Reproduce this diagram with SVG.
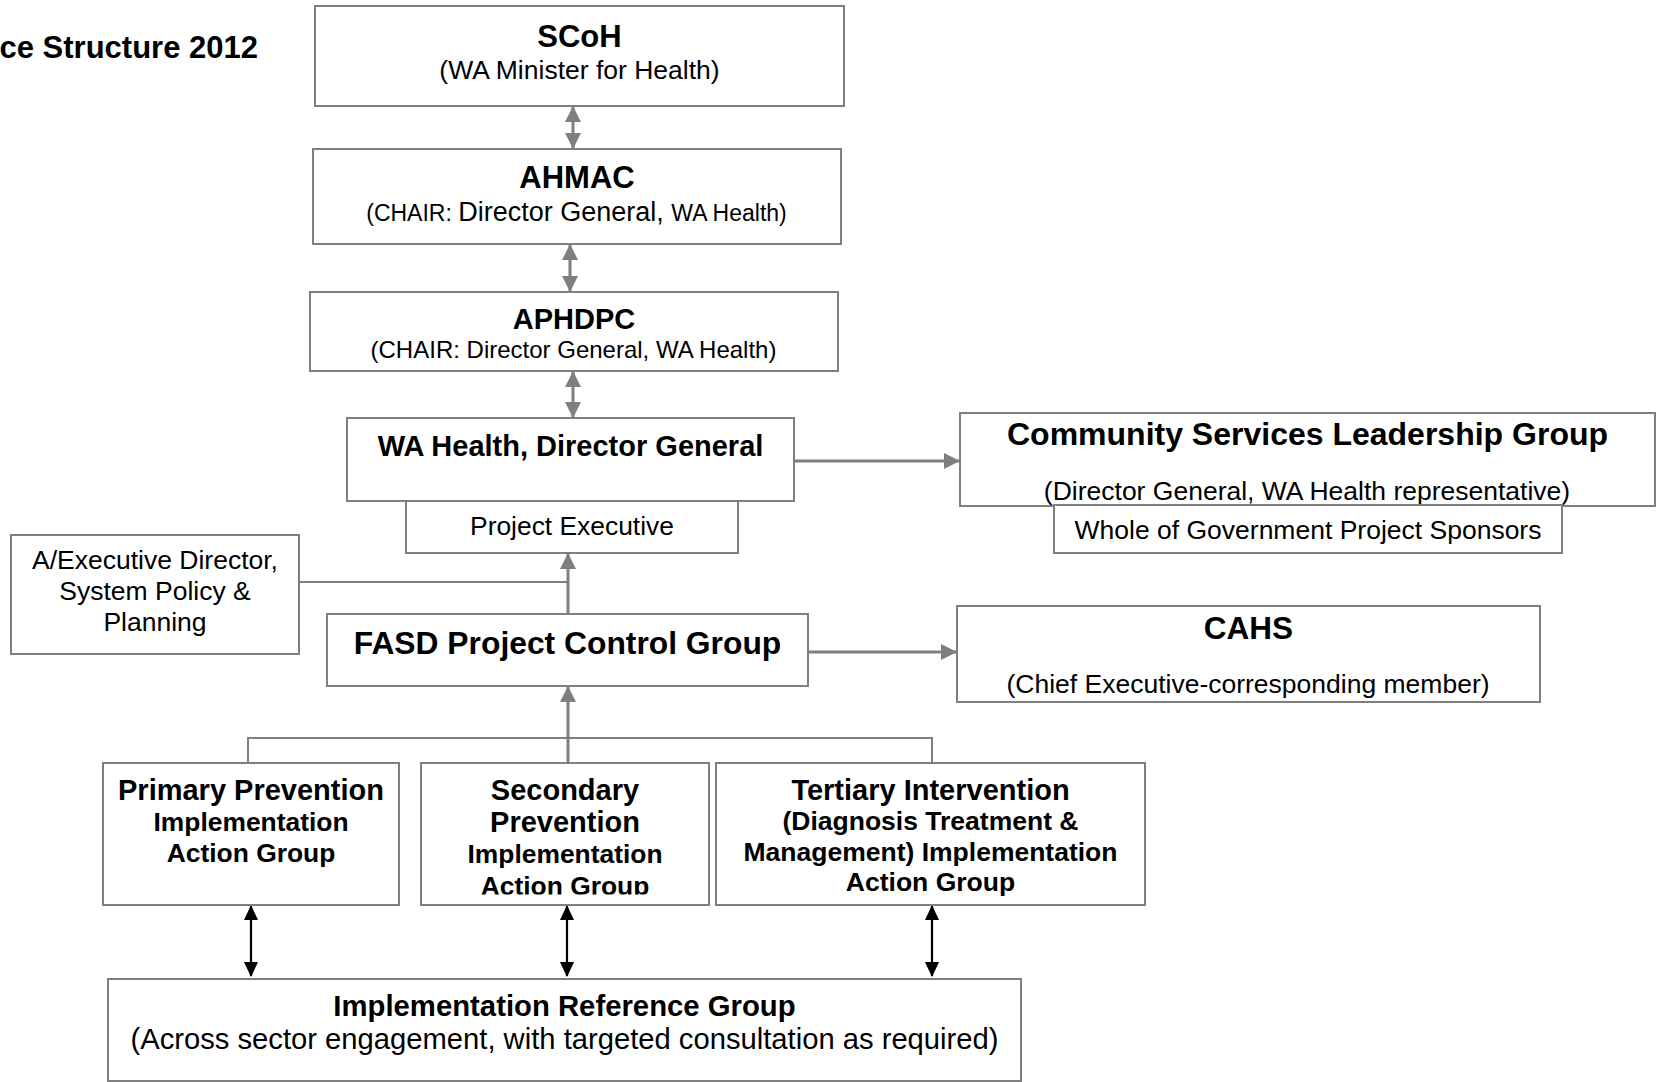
<svg xmlns="http://www.w3.org/2000/svg" width="1658" height="1082" viewBox="0 0 1658 1082">
<style>
text{font-family:"Liberation Sans",Arial,sans-serif;fill:#000;text-anchor:middle}
.b{font-weight:bold}
.box{fill:#fff;stroke:#7f7f7f;stroke-width:2}
.cg{stroke:#7f7f7f;stroke-width:3;fill:none}
.ct{stroke:#7f7f7f;stroke-width:2;fill:none}
.ck{stroke:#000;stroke-width:2.2;fill:none}
</style>
<defs>
<marker id="ag" viewBox="0 0 16 16" refX="15" refY="8" markerWidth="16" markerHeight="16" markerUnits="userSpaceOnUse" orient="auto-start-reverse"><path d="M0,0 L16,8 L0,16 z" fill="#7f7f7f"/></marker>
<marker id="ak" viewBox="0 0 16 16" refX="15" refY="8" markerWidth="16" markerHeight="15" markerUnits="userSpaceOnUse" orient="auto-start-reverse"><path d="M0,0.5 L16,8 L0,15.5 z" fill="#000"/></marker>
<clipPath id="secclip"><rect x="421" y="763" width="288" height="131.5"/></clipPath>
</defs>

<g id="title"><text class="b" x="258" y="58" font-size="31" style="text-anchor:end">ce Structure 2012</text></g>

<g id="connectors">
<line class="cg" x1="573" y1="107" x2="573" y2="148" marker-start="url(#ag)" marker-end="url(#ag)"/>
<line class="cg" x1="570" y1="245" x2="570" y2="291" marker-start="url(#ag)" marker-end="url(#ag)"/>
<line class="cg" x1="573" y1="372" x2="573" y2="417" marker-start="url(#ag)" marker-end="url(#ag)"/>
<line class="cg" x1="795" y1="461" x2="959" y2="461" marker-end="url(#ag)"/>
<line class="cg" x1="568" y1="614" x2="568" y2="554" marker-end="url(#ag)"/>
<line class="ct" x1="299" y1="582" x2="568" y2="582"/>
<line class="cg" x1="809" y1="652" x2="956" y2="652" marker-end="url(#ag)"/>
<polyline class="ct" points="248,763 248,738 932,738 932,763"/>
<line class="cg" x1="568" y1="763" x2="568" y2="687" marker-end="url(#ag)"/>
<line class="ck" x1="251" y1="906" x2="251" y2="976" marker-start="url(#ak)" marker-end="url(#ak)"/>
<line class="ck" x1="567" y1="906" x2="567" y2="976" marker-start="url(#ak)" marker-end="url(#ak)"/>
<line class="ck" x1="932" y1="906" x2="932" y2="976" marker-start="url(#ak)" marker-end="url(#ak)"/>
</g>

<g id="scoh">
<rect class="box" x="315" y="6" width="529" height="100"/>
<text class="b" x="579.5" y="47" font-size="31">SCoH</text>
<text x="579.5" y="78.5" font-size="26.5">(WA Minister for Health)</text>
</g>

<g id="ahmac">
<rect class="box" x="313" y="149" width="528" height="95"/>
<text class="b" x="577" y="188" font-size="31">AHMAC</text>
<text x="576.5" y="220.5"><tspan font-size="23">(CHAIR: </tspan><tspan font-size="27">Director General, </tspan><tspan font-size="23">WA Health)</tspan></text>
</g>

<g id="aphdpc">
<rect class="box" x="310" y="292" width="528" height="79"/>
<text class="b" x="574" y="329" font-size="29">APHDPC</text>
<text x="573.5" y="358" font-size="24">(CHAIR: Director General, WA Health)</text>
</g>

<g id="wahealth">
<rect class="box" x="347" y="418" width="447" height="83"/>
<text class="b" x="570.5" y="455.5" font-size="29">WA Health, Director General</text>
</g>

<g id="projexec">
<rect class="box" x="406" y="501" width="332" height="52"/>
<text x="572" y="535" font-size="26.4">Project Executive</text>
</g>

<g id="aexec">
<rect class="box" x="11" y="535" width="288" height="119"/>
<text x="155" y="569" font-size="26.5">A/Executive Director,</text>
<text x="155" y="600" font-size="26.5">System Policy &amp;</text>
<text x="155" y="631" font-size="26.5">Planning</text>
</g>

<g id="fasd">
<rect class="box" x="327" y="614" width="481" height="72"/>
<text class="b" x="567.5" y="654" font-size="31.8">FASD Project Control Group</text>
</g>

<g id="cslg">
<rect class="box" x="960" y="413" width="695" height="93"/>
<text class="b" x="1307.5" y="445" font-size="32">Community Services Leadership Group</text>
<text x="1307" y="499.5" font-size="26.5">(Director General, WA Health representative)</text>
</g>

<g id="wog">
<rect class="box" x="1054" y="505" width="508" height="48"/>
<text x="1308" y="538.5" font-size="26.5">Whole of Government Project Sponsors</text>
</g>

<g id="cahs">
<rect class="box" x="957" y="606" width="583" height="96"/>
<text class="b" x="1248.5" y="638.5" font-size="31.5">CAHS</text>
<text x="1248" y="692.5" font-size="26.5">(Chief Executive-corresponding member)</text>
</g>

<g id="primary">
<rect class="box" x="103" y="763" width="296" height="142"/>
<text class="b" x="251" y="800" font-size="29">Primary Prevention</text>
<text class="b" x="251" y="830.5" font-size="26.4">Implementation</text>
<text class="b" x="251" y="861.5" font-size="26.4">Action Group</text>
</g>

<g id="secondary">
<rect class="box" x="421" y="763" width="288" height="142"/>
<text class="b" x="565" y="800" font-size="29">Secondary</text>
<text class="b" x="565" y="831.5" font-size="29">Prevention</text>
<text class="b" x="565" y="863" font-size="26.4">Implementation</text>
<text class="b" x="565" y="895" font-size="26.4" clip-path="url(#secclip)">Action Group</text>
</g>

<g id="tertiary">
<rect class="box" x="716" y="763" width="429" height="142"/>
<text class="b" x="930.5" y="800" font-size="29">Tertiary Intervention</text>
<text class="b" x="930.5" y="829.5" font-size="26.5">(Diagnosis Treatment &amp;</text>
<text class="b" x="930.5" y="861" font-size="26.5">Management) Implementation</text>
<text class="b" x="930.5" y="891" font-size="26.5">Action Group</text>
</g>

<g id="irg">
<rect class="box" x="108" y="979" width="913" height="102"/>
<text class="b" x="564.5" y="1016" font-size="29.3">Implementation Reference Group</text>
<text x="564.5" y="1048.5" font-size="29.2">(Across sector engagement, with targeted consultation as required)</text>
</g>
</svg>
